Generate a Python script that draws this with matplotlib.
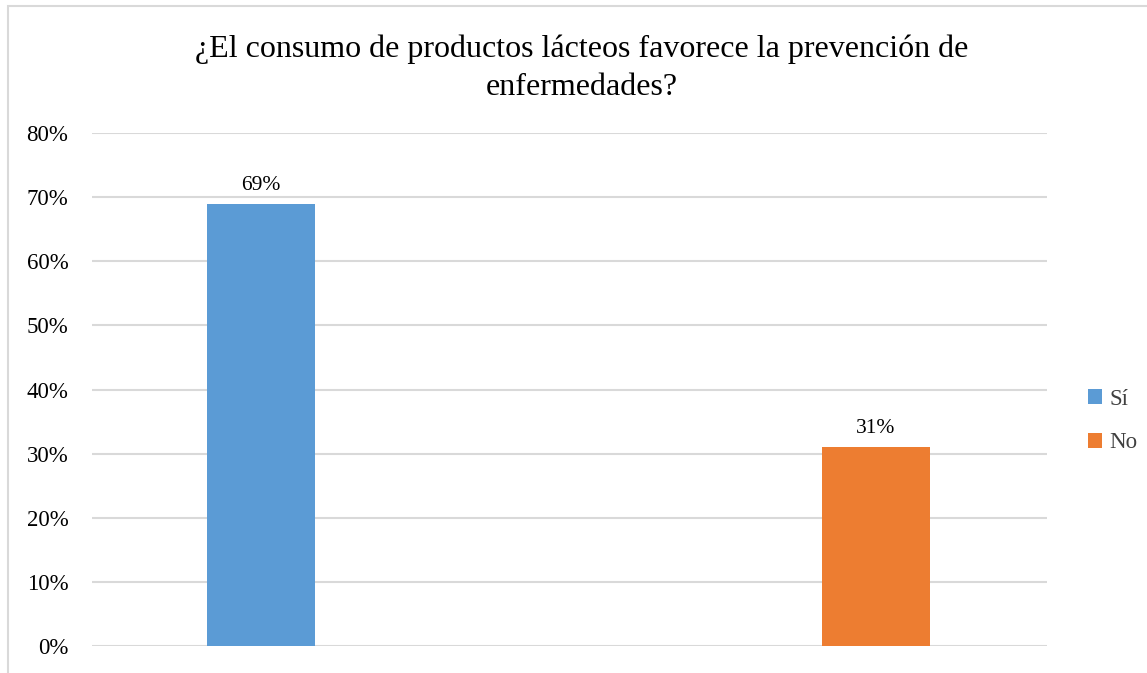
import matplotlib
matplotlib.use("Agg")
import matplotlib.pyplot as plt
from matplotlib.patches import Rectangle
from matplotlib.ticker import PercentFormatter

plt.rcParams['font.family'] = ['Liberation Serif', 'DejaVu Serif']

title = "¿El consumo de productos lácteos favorece la prevención de\nenfermedades?"
series = ["Sí", "No"]
values = [0.69, 0.31]
colors = ["#5B9BD5", "#ED7D31"]
yticks = [0, 0.1, 0.2, 0.3, 0.4, 0.5, 0.6, 0.7, 0.8]

W, H = 1147, 673
fig = plt.figure(figsize=(W / 100, H / 100), dpi=100)
fig.patch.set_facecolor("white")

# outer chart border (cropped on right / bottom)
fig.add_artist(Rectangle((8 / W, -0.05), 1.2, (H - 6) / H + 0.05, transform=fig.transFigure,
                         fill=False, edgecolor="#d9d9d9", linewidth=1.5))

ax = fig.add_axes([92 / W, 27 / H, (1047 - 92) / W, (646 - 133) / H])
positions = [0, 1]
bw = 108 / 615
bars = []
for p, v, c, s in zip(positions, values, colors, series):
    b = ax.bar(p, v, width=bw, color=c, label=s, zorder=3)
    bars.append(b)
    ax.text(p, v + 0.014, f"{round(v * 100)}%", ha="center", va="bottom",
            fontsize=15.5, color="#000000", zorder=4)

ax.set_xlim(-169 / 615, 1 + 171 / 615)
ax.set_ylim(0, 0.8)
ax.set_yticks(yticks)
ax.yaxis.set_major_formatter(PercentFormatter(1.0, decimals=0))
ax.tick_params(axis="y", length=0, labelsize=16.5, pad=17, colors="#000000")
ax.set_xticks([])
ax.grid(axis="y", color="#d9d9d9", linewidth=1.5, zorder=0)
for sp in ax.spines.values():
    sp.set_visible(False)

fig.text(0.5 * (193 + 971) / W, 1 - 34 / H, title, ha="center", va="top",
         fontsize=23, color="#000000", linespacing=1.45)

leg = fig.legend(handles=[b[0] for b in bars], labels=series, loc="center left",
                 bbox_to_anchor=(1077 / W, 1 - 421 / H), frameon=False,
                 fontsize=16.5, handlelength=0.6, handleheight=0.6, handletextpad=0.3,
                 labelspacing=1.0, borderpad=0)
for t in leg.get_texts():
    t.set_color("#404040")

fig.savefig("out.png", dpi=100)
